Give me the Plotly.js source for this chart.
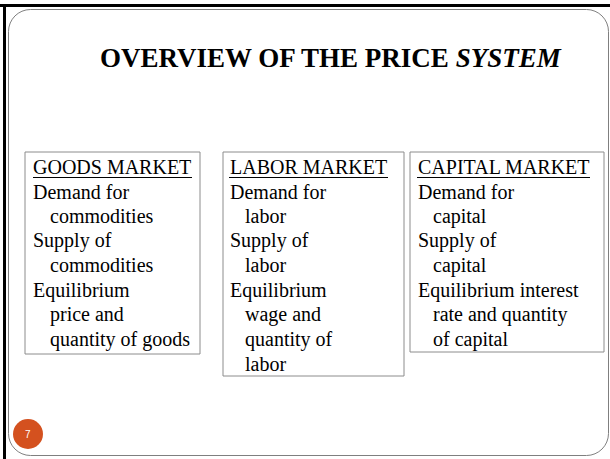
<!DOCTYPE html>
<html><head><meta charset="utf-8">
<script src="https://cdn.plot.ly/plotly-3.0.1.min.js"></script>
<style>html,body{margin:0;padding:0;background:#fff;}#c{width:610px;height:459px;}</style>
</head><body><div id="c"></div>
<script>
// ---- content ----
var titleMain = "OVERVIEW OF THE PRICE ";
var titleItalic = "SYSTEM";
var marketNames = ["GOODS MARKET", "LABOR MARKET", "CAPITAL MARKET"];
// a leading ">" marks an indented continuation line
var goodsLines = ["Demand for", ">commodities", "Supply of", ">commodities", "Equilibrium", ">price and", ">quantity of goods"];
var laborLines = ["Demand for", ">labor", "Supply of", ">labor", "Equilibrium", ">wage and", ">quantity of", ">labor"];
var capitalLines = ["Demand for", ">capital", "Supply of", ">capital", "Equilibrium interest", ">rate and quantity", ">of capital"];
var slideNumber = "7";

// ---- layout geometry ----
var boxes = [
  {x0: 25, x1: 200, y0: 152, y1: 354, tx: 31, ind: 17, lines: goodsLines, ul: [33, 192]},
  {x0: 223, x1: 404, y0: 152, y1: 376, tx: 228, ind: 15, lines: laborLines, ul: [229, 388]},
  {x0: 410, x1: 604, y0: 152, y1: 352, tx: 416, ind: 15, lines: capitalLines, ul: [417, 590]}
];
var lineY0 = 167, lineStep = 24.6;
var serif = "Liberation Serif, Times New Roman, serif";

var shapes = [];
var annotations = [];

// outer black frame (top and left)
shapes.push({type: "line", x0: 0, x1: 610, y0: 5.5, y1: 5.5, line: {color: "#000", width: 3}});
shapes.push({type: "line", x0: 4.5, x1: 4.5, y0: 5, y1: 459, line: {color: "#000", width: 3}});

// rounded gray frame
var L = 8.5, T = 9.5, R = 608.5, B = 455.5, r = 22;
var p = "M " + (L + r) + "," + T + " L " + (R - r) + "," + T +
        " C " + (R - r * 0.45) + "," + T + " " + R + "," + (T + r * 0.45) + " " + R + "," + (T + r) +
        " L " + R + "," + (B - r) +
        " C " + R + "," + (B - r * 0.45) + " " + (R - r * 0.45) + "," + B + " " + (R - r) + "," + B +
        " L " + (L + r) + "," + B +
        " C " + (L + r * 0.45) + "," + B + " " + L + "," + (B - r * 0.45) + " " + L + "," + (B - r) +
        " L " + L + "," + (T + r) +
        " C " + L + "," + (T + r * 0.45) + " " + (L + r * 0.45) + "," + T + " " + (L + r) + "," + T + " Z";
shapes.push({type: "path", path: p, line: {color: "#7f7f7f", width: 1}});

// title
annotations.push({x: 331, y: 58, xref: "x", yref: "y", xanchor: "center", yanchor: "middle",
  text: "<b>" + titleMain + "<i>" + titleItalic + "</i></b>", showarrow: false,
  font: {family: serif, size: 27, color: "#000"}});

boxes.forEach(function (b, i) {
  shapes.push({type: "rect", x0: b.x0, x1: b.x1, y0: b.y0, y1: b.y1,
    line: {color: "#8c8c8c", width: 1}, fillcolor: "rgba(0,0,0,0)"});
  var all = [marketNames[i]].concat(b.lines);
  all.forEach(function (t, k) {
    var indented = t.charAt(0) === ">";
    annotations.push({x: b.tx + (indented ? b.ind : 0), y: lineY0 + k * lineStep, xref: "x", yref: "y",
      xanchor: "left", yanchor: "middle", showarrow: false,
      text: indented ? t.slice(1) : t,
      font: {family: serif, size: 20, color: "#000"}});
  });
  shapes.push({type: "line", x0: b.ul[0], x1: b.ul[1], y0: 177.5, y1: 177.5, line: {color: "#000", width: 1}});
});

// slide number badge
shapes.push({type: "circle", x0: 13, x1: 43, y0: 419, y1: 449, fillcolor: "#d4511f", line: {width: 0}});
annotations.push({x: 28, y: 434, xref: "x", yref: "y", xanchor: "center", yanchor: "middle",
  text: slideNumber, showarrow: false, font: {family: "Liberation Sans, Arial, sans-serif", size: 10, color: "#fff"}});

var layout = {
  width: 610, height: 459,
  margin: {l: 0, r: 0, t: 0, b: 0},
  paper_bgcolor: "#fff", plot_bgcolor: "#fff",
  xaxis: {range: [0, 610], visible: false, fixedrange: true},
  yaxis: {range: [459, 0], visible: false, fixedrange: true},
  shapes: shapes, annotations: annotations, showlegend: false
};
Plotly.newPlot("c", [], layout, {displayModeBar: false, staticPlot: true});
</script></body></html>
